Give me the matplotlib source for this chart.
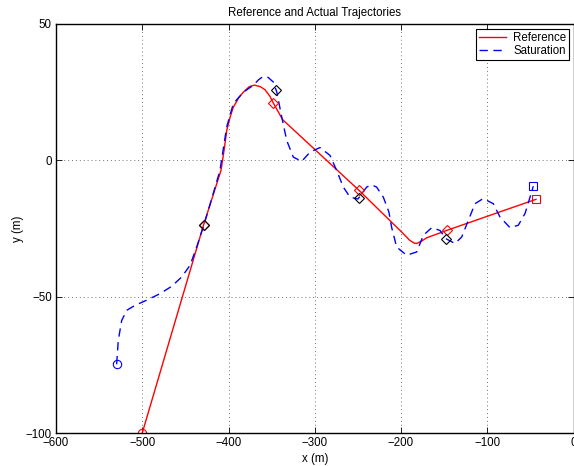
import matplotlib
matplotlib.use("Agg")
import matplotlib.pyplot as plt

plt.rcParams['font.family'] = ['Liberation Sans', 'DejaVu Sans']

# Reference trajectory (red)
ref_x = [-500, -428.8, -408.7, -405.0, -402.0, -398.0, -394.4, -388.0, -382.8, -376.0, -370.0,
         -363.0, -357.7, -352.0, -348.0, -337.2, -248.7, -197.3, -190.0, -185.0, -181.8, -176.0,
         -170.2, -147.0, -43.5]
ref_y = [-100, -23.6, -3.7, 4.0, 11.0, 16.0, 19.5, 23.0, 25.0, 27.0, 27.6,
         27.0, 25.9, 23.5, 21.0, 14.9, -11.0, -26.9, -29.3, -30.3, -30.5, -29.6,
         -28.4, -25.7, -14.3]

# Saturation trajectory (blue dashed)
sat_x = [-529.7, -527.8, -523.8, -518.0, -508.4, -494.9, -479.4, -465.9, -454.3, -444.6,
         -436.9, -428.4, -418.0, -409.9, -402.1, -394.4, -382.8, -371.3, -365.0, -359.6,
         -354.0, -348.0, -344.0, -338.3, -332.5, -324.9, -315.2, -305.5, -293.9, -282.3,
         -274.6, -266.9, -259.1, -250.0, -239.8, -234.0, -228.3, -220.5, -214.0, -210.9,
         -205.1, -193.5, -181.8, -174.1, -164.4, -154.8, -148.2, -137.4, -129.6, -121.9,
         -114.2, -104.6, -93.0, -85.2, -73.6, -64.0, -56.2, -50.4, -46.6]
sat_y = [-74.8, -66.0, -58.7, -55.0, -53.2, -51.3, -48.9, -46.2, -42.8, -38.5,
         -31.8, -23.6, -12.5, -3.7, 12.2, 20.8, 25.0, 27.5, 29.6, 30.8,
         30.4, 28.7, 25.0, 15.9, 7.3, 1.2, -0.4, 3.0, 4.7, 1.8,
         -3.7, -9.8, -13.5, -14.2, -9.8, -9.0, -9.8, -13.5, -19.0, -24.5,
         -31.8, -34.8, -33.6, -27.5, -24.7, -25.7, -28.7, -30.5, -28.1, -22.0,
         -15.9, -14.0, -15.9, -20.8, -24.7, -23.8, -19.5, -13.5, -9.5]

# Time markers
ref_mark_x = [-428.8, -348.0, -248.7, -147.0]
ref_mark_y = [-23.6, 21.0, -11.0, -25.7]
sat_mark_x = [-428.8, -345.3, -248.3, -148.2]
sat_mark_y = [-23.6, 25.9, -13.7, -28.7]

W, H = 574, 466
FS = 8.3
fig = plt.figure(figsize=(W / 100, H / 100), dpi=100)
ax = fig.add_axes([56 / W, 1 - 433 / H, (573.5 - 56) / W, (433 - 24) / H])

ax.plot(ref_x, ref_y, color=(1, 0, 0), lw=1.0, label='Reference')
ax.plot(sat_x, sat_y, color=(0, 0, 1), lw=1.0, linestyle=(0, (6, 4)), label='Saturation')

ax.plot(ref_x[0], ref_y[0], 'o', mfc='none', mec='red', ms=6, mew=0.8)
ax.plot(ref_x[-1], ref_y[-1], 's', mfc='none', mec='red', ms=5.5, mew=0.8)
ax.plot(sat_x[0], sat_y[0], 'o', mfc='none', mec='blue', ms=6, mew=0.8)
ax.plot(sat_x[-1], sat_y[-1], 's', mfc='none', mec='blue', ms=5.5, mew=0.8)
ax.plot(ref_mark_x, ref_mark_y, 'D', mfc='none', mec='red', ms=5.3, mew=0.8, linestyle='none')
ax.plot(sat_mark_x, sat_mark_y, 'D', mfc='none', mec='black', ms=5.3, mew=0.8, linestyle='none')

ax.set_xlim(-600, 0)
ax.set_ylim(-100, 50)
ax.set_xticks([-600, -500, -400, -300, -200, -100, 0])
ax.set_yticks([-100, -50, 0, 50])
ax.grid(True, color='0.45', linestyle=(0, (1, 3)), lw=0.7)
ax.tick_params(direction='in', top=True, right=True, labelsize=FS, length=4, width=0.6, pad=3)
for s in ax.spines.values():
    s.set_linewidth(1.0)

ax.set_title('Reference and Actual Trajectories', fontsize=FS, pad=6)
ax.set_xlabel('x (m)', fontsize=FS, labelpad=3)
ax.set_ylabel('y (m)', fontsize=FS)
ax.yaxis.set_label_coords((24 - 56) / 517.5, 0.5)

leg = ax.legend(loc='upper right', bbox_to_anchor=(569.3 / W, 1 - 29 / H),
                bbox_transform=fig.transFigure, borderaxespad=0, fancybox=False,
                framealpha=1, edgecolor='black', fontsize=FS, handlelength=2.4,
                handletextpad=0.6, borderpad=0.25, labelspacing=0.1)
leg.get_frame().set_linewidth(0.8)

fig.savefig('out.png', dpi=100)
